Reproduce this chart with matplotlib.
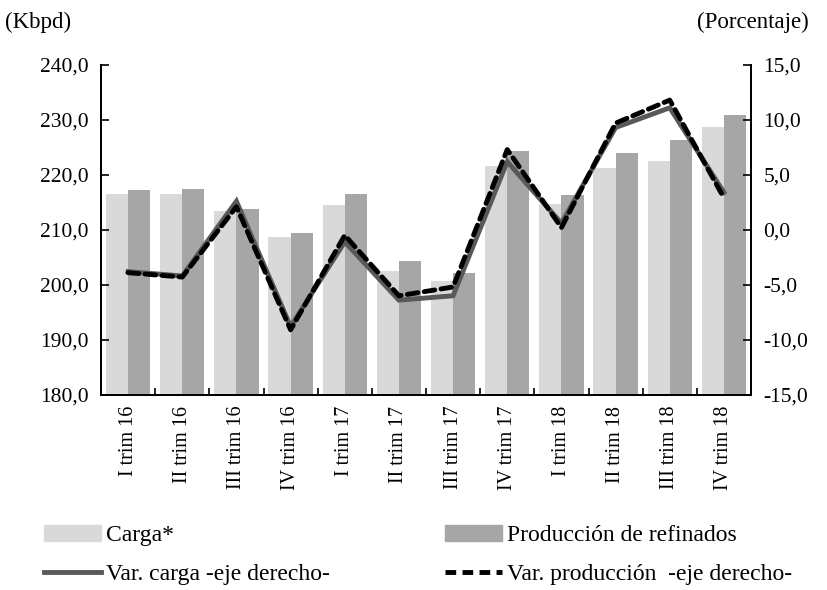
import matplotlib.pyplot as plt
import numpy as np
from matplotlib.patches import Patch
from matplotlib.lines import Line2D

plt.rcParams['font.family'] = ['Liberation Serif', 'DejaVu Serif']

trimestres = ['I trim 16', 'II trim 16', 'III trim 16', 'IV trim 16',
              'I trim 17', 'II trim 17', 'III trim 17', 'IV trim 17',
              'I trim 18', 'II trim 18', 'III trim 18', 'IV trim 18']
carga = [216.5, 216.5, 213.5, 208.7, 214.5, 202.5, 200.7, 221.6,
         214.7, 221.2, 222.5, 228.7]
produccion = [217.2, 217.5, 213.8, 209.4, 216.5, 204.3, 202.2, 224.3,
              216.4, 223.9, 226.3, 230.8]
var_carga = [-3.8, -4.2, 2.6, -8.8, -1.1, -6.4, -6.0, 6.2,
             0.6, 9.3, 11.1, 3.4]
var_produccion = [-3.9, -4.3, 2.1, -9.1, -0.5, -6.0, -5.2, 7.3,
                  0.2, 9.7, 11.8, 2.9]

fig = plt.figure(figsize=(8.28, 5.9), dpi=100)
ax = fig.add_axes([0.122, 0.331, 0.785, 0.559])
ax2 = ax.twinx()

x = np.arange(len(trimestres))
w = 0.41
ax.bar(x - w / 2, carga, w, color='#d9d9d9', zorder=1)
ax.bar(x + w / 2, produccion, w, color='#a6a6a6', zorder=1)

ax2.plot(x, var_carga, color='#595959', lw=3.5, solid_joinstyle='miter')
ax2.plot(x, var_produccion, color='black', lw=3.5, ls=(0, (2.2, 1.3)),
         dash_capstyle='round')

ax.set_xlim(-0.5, len(trimestres) - 0.5)
ax.set_ylim(180, 240)
ax.set_yticks(np.arange(180, 241, 10))
ax.set_yticklabels([f'{v:.1f}'.replace('.', ',') for v in np.arange(180, 241, 10)])
ax2.set_ylim(-15, 15)
ax2.set_yticks(np.arange(-15, 16, 5))
ax2.set_yticklabels([f'{v:.1f}'.replace('.', ',') for v in np.arange(-15, 16, 5)])

ax.set_xticks(x)
ax.set_xticklabels(trimestres, rotation=90)
ax.set_xticks(np.arange(0.5, len(trimestres) - 0.5, 1), minor=True)
ax.tick_params(axis='x', which='major', length=0, pad=8, labelsize=14.5)
ax.tick_params(axis='x', which='minor', direction='in', length=5, width=1.2)
ax.tick_params(axis='y', direction='in', length=6, width=1.2, labelsize=15.5, pad=9)
ax2.tick_params(axis='y', direction='in', length=6, width=1.2, labelsize=15.5, pad=9)

for a in (ax, ax2):
    a.spines['top'].set_visible(False)
    for s in ('left', 'right', 'bottom'):
        a.spines[s].set_linewidth(1.3)

fig.text(0.006, 0.952, '(Kbpd)', fontsize=16.5)
fig.text(0.977, 0.952, '(Porcentaje)', fontsize=16.5, ha='right')

handles = [Patch(color='#d9d9d9'),
           Line2D([0], [0], color='#595959', lw=3.5),
           Patch(color='#a6a6a6'),
           Line2D([0], [0], color='black', lw=3.5, ls=(0, (2.2, 1.3)))]
labels = ['Carga*', 'Var. carga -eje derecho-',
          'Producción de refinados', 'Var. producción  -eje derecho-']
fig.legend(handles, labels, ncol=2, loc='lower left',
           bbox_to_anchor=(0.042, -0.008), frameon=False, fontsize=17,
           handlelength=2.4, handleheight=0.7, handletextpad=0.2,
           columnspacing=4.9, labelspacing=0.75, borderaxespad=0)

fig.savefig('out.png', dpi=100)
